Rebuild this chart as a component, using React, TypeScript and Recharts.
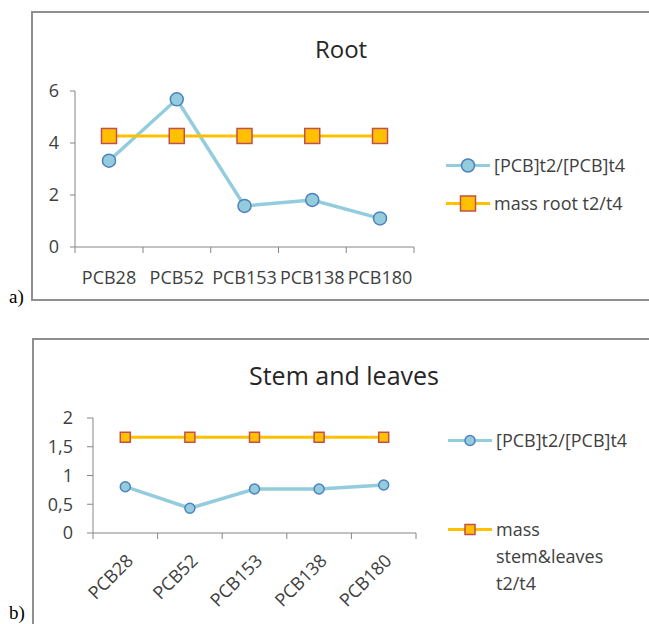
import React from 'react';
import { LineChart, Line, XAxis, YAxis, Legend } from 'recharts';

const categories = ['PCB28', 'PCB52', 'PCB153', 'PCB138', 'PCB180'];
const rootRatio = [3.32, 5.68, 1.58, 1.81, 1.1];
const rootMass = [4.27, 4.27, 4.27, 4.27, 4.27];
const stemRatio = [0.805, 0.43, 0.765, 0.765, 0.835];
const stemMass = [1.665, 1.665, 1.665, 1.665, 1.665];
const rootTicks = [0, 2, 4, 6];
const stemTicks = [0, 0.5, 1, 1.5, 2];

const rootData = categories.map((name, i) => ({ name, ratio: rootRatio[i], mass: rootMass[i] }));
const stemData = categories.map((name, i) => ({ name, ratio: stemRatio[i], mass: stemMass[i] }));

const FONT = '"Open Sans", sans-serif';
const AXIS = '#868686';
const TEXT = '#404040';
const BLUE_LINE = '#93CDDD';
const BLUE_DOT_STROKE = '#4F81BD';
const ORANGE = '#FFC000';
const RED = '#C0504D';

const squareDot = (size: number) => (props: any) => {
  const { cx, cy, index } = props;
  return (
    <rect
      key={`sq-${index}`}
      x={cx - size / 2}
      y={cy - size / 2}
      width={size}
      height={size}
      fill={ORANGE}
      stroke={RED}
      strokeWidth={1.5}
    />
  );
};

// Category tick: label at band centre, tick marks at band boundaries (Excel style)
const makeBandTick = (half: number, gap: number, rotated: boolean) => (props: any) => {
  const { x, y, payload, index } = props;
  const ty = y + gap;
  return (
    <g>
      {index === 0 && <line x1={x - half} x2={x - half} y1={y} y2={y + 6} stroke={AXIS} />}
      <line x1={x + half} x2={x + half} y1={y} y2={y + 6} stroke={AXIS} />
      {rotated ? (
        <text
          x={x}
          y={ty}
          dy="0.71em"
          textAnchor="end"
          transform={`rotate(-45, ${x}, ${ty})`}
          fill={TEXT}
          fontSize={18}
          fontFamily={FONT}
        >
          {payload.value}
        </text>
      ) : (
        <text x={x} y={ty} dy="0.71em" textAnchor="middle" fill={TEXT} fontSize={18} fontFamily={FONT}>
          {payload.value}
        </text>
      )}
    </g>
  );
};

type Spec = { top: number; shape: 'circle' | 'square'; size: number };

const makeLegend = (specs: Record<string, Spec>) => (props: any) => {
  const { payload } = props;
  return (
    <div style={{ position: 'relative', fontFamily: FONT, fontSize: 18, color: TEXT }}>
      {(payload || []).map((p: any) => {
        const s = specs[p.dataKey];
        const lh = 27;
        return (
          <div
            key={p.dataKey}
            style={{ position: 'absolute', left: 0, top: s.top, display: 'flex', alignItems: 'flex-start' }}
          >
            <svg width={44} height={lh} style={{ flex: 'none' }}>
              <line x1={0} x2={44} y1={lh / 2} y2={lh / 2} stroke={p.color} strokeWidth={3} />
              {s.shape === 'circle' ? (
                <circle cx={22} cy={lh / 2} r={s.size / 2} fill={BLUE_LINE} stroke={BLUE_DOT_STROKE} strokeWidth={1.5} />
              ) : (
                <rect x={22 - s.size / 2} y={lh / 2 - s.size / 2} width={s.size} height={s.size} fill={ORANGE} stroke={RED} strokeWidth={1.5} />
              )}
            </svg>
            <div style={{ marginLeft: 4, width: 145, lineHeight: `${lh}px`, whiteSpace: 'normal' }}>{p.value}</div>
          </div>
        );
      })}
    </div>
  );
};

const rootLegend = makeLegend({
  ratio: { top: 1.5, shape: 'circle', size: 13 },
  mass: { top: 39.5, shape: 'square', size: 15 },
});
const stemLegend = makeLegend({
  ratio: { top: 6.5, shape: 'circle', size: 10 },
  mass: { top: 95.5, shape: 'square', size: 10 },
});

const rootTick = makeBandTick(34, 24, false);
const stemTick = makeBandTick(32.3, 20, true);

export default function App() {
  return (
    <div style={{ position: 'absolute', left: 0, top: 0, width: 649, height: 624, overflow: 'hidden', background: '#fff' }}>
      {/* frames */}
      <div style={{ position: 'absolute', left: 31, top: 11, width: 640, height: 290, border: '2px solid #8f8f8f', boxSizing: 'border-box' }} />
      <div style={{ position: 'absolute', left: 32, top: 338, width: 640, height: 320, border: '2px solid #8f8f8f', boxSizing: 'border-box' }} />
      <div style={{ position: 'absolute', left: 9, top: 285, fontFamily: '"Liberation Serif", "Times New Roman", serif', fontSize: 19, lineHeight: '24px', color: '#000' }}>a)</div>
      <div style={{ position: 'absolute', left: 9, top: 602, fontFamily: '"Liberation Serif", "Times New Roman", serif', fontSize: 19, lineHeight: '22px', color: '#000' }}>b)</div>

      {/* titles */}
      <div style={{ position: 'absolute', left: 191, top: 33, width: 300, textAlign: 'center', fontFamily: FONT, fontSize: 24, lineHeight: '32px', color: '#262626' }}>Root</div>
      <div style={{ position: 'absolute', left: 194, top: 359, width: 300, textAlign: 'center', fontFamily: FONT, fontSize: 25, lineHeight: '32px', color: '#262626' }}>Stem and leaves</div>

      {/* top chart */}
      <div style={{ position: 'absolute', left: 0, top: 0 }}>
        <LineChart width={649} height={310} data={rootData} margin={{ top: 91, right: 235, left: 35, bottom: 23 }}>
          <XAxis
            dataKey="name"
            height={40}
            interval={0}
            padding={{ left: 34, right: 34 }}
            axisLine={{ stroke: AXIS }}
            tickLine={false}
            tickSize={0}
            tickMargin={0}
            tick={rootTick}
          />
          <YAxis
            width={40}
            domain={[0, 6]}
            ticks={rootTicks}
            axisLine={{ stroke: AXIS }}
            tickLine={{ stroke: AXIS }}
            tickSize={5}
            tickMargin={11}
            tick={{ fill: TEXT, fontSize: 18, fontFamily: FONT }}
          />
          <Legend
            layout="horizontal"
            align="center"
            verticalAlign="middle"
            wrapperStyle={{ left: 446, top: 150, width: 203, height: 80 }}
            content={rootLegend}
          />
          <Line
            dataKey="ratio"
            name="[PCB]t2/[PCB]t4"
            stroke={BLUE_LINE}
            strokeWidth={3.5}
            dot={{ r: 6.5, fill: BLUE_LINE, stroke: BLUE_DOT_STROKE, strokeWidth: 1.5 }}
            isAnimationActive={false}
          />
          <Line
            dataKey="mass"
            name="mass root t2/t4"
            stroke={ORANGE}
            strokeWidth={3}
            dot={squareDot(15)}
            isAnimationActive={false}
          />
        </LineChart>
      </div>

      {/* bottom chart */}
      <div style={{ position: 'absolute', left: 0, top: 330 }}>
        <LineChart width={649} height={294} data={stemData} margin={{ top: 88, right: 233, left: 43, bottom: 21 }}>
          <XAxis
            dataKey="name"
            height={70}
            interval={0}
            padding={{ left: 32.3, right: 32.3 }}
            axisLine={{ stroke: AXIS }}
            tickLine={false}
            tickSize={0}
            tickMargin={0}
            tick={stemTick}
          />
          <YAxis
            width={50}
            domain={[0, 2]}
            ticks={stemTicks}
            tickFormatter={(v: number) => String(v).replace('.', ',')}
            axisLine={{ stroke: AXIS }}
            tickLine={{ stroke: AXIS }}
            tickSize={6}
            tickMargin={14}
            tick={{ fill: TEXT, fontSize: 18, fontFamily: FONT }}
          />
          <Legend
            layout="horizontal"
            align="center"
            verticalAlign="middle"
            wrapperStyle={{ left: 448, top: 90, width: 201, height: 200 }}
            content={stemLegend}
          />
          <Line
            dataKey="ratio"
            name="[PCB]t2/[PCB]t4"
            stroke={BLUE_LINE}
            strokeWidth={3.5}
            dot={{ r: 5, fill: BLUE_LINE, stroke: BLUE_DOT_STROKE, strokeWidth: 1.5 }}
            isAnimationActive={false}
          />
          <Line
            dataKey="mass"
            name="mass stem&leaves t2/t4"
            stroke={ORANGE}
            strokeWidth={3}
            dot={squareDot(10)}
            isAnimationActive={false}
          />
        </LineChart>
      </div>
    </div>
  );
}
